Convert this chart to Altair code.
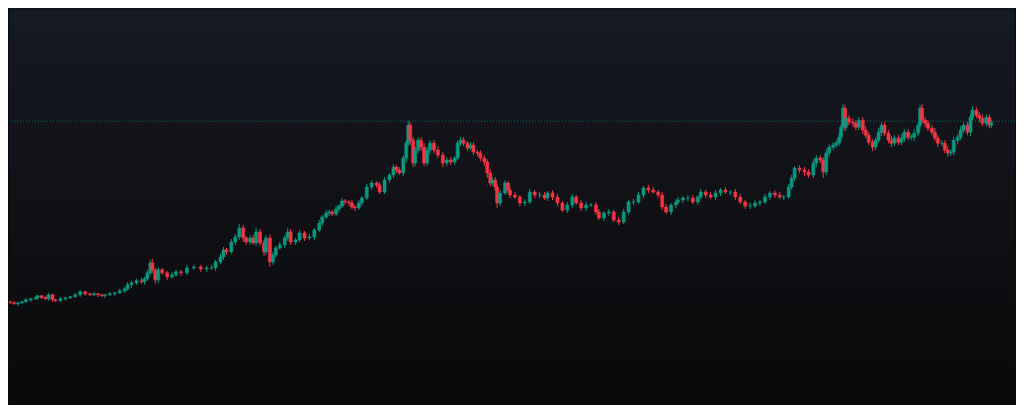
import altair as alt
import pandas as pd

# time index (trading session number) and closing prices
t = [0,4,8,12,16,20,25,30,32,36,40,43,47,50,55,60,65,70,75,80,85,89,93,97,
     100,105,110,115,120,123,127,132,137,140,143,146,148,151,154,158,163,168,172,177,183,190,197,
     203,208,212,217,220,223,228,232,236,240,243,247,250,253,257,261,263,267,270,273,277,282,285,288,293,297,
     302,307,312,317,320,324,327,330,334,337,340,343,347,350,353,357,360,365,370,375,378,383,388,392,395,398,
     402,405,407,409,412,414,417,420,423,426,429,433,437,442,446,450,454,457,460,463,467,470,473,477,480,484,487,490,492,495,497,
     500,505,508,510,515,520,525,530,535,540,545,548,553,558,563,568,573,577,582,587,592,597,
     600,605,610,615,620,625,630,635,640,645,650,655,660,664,668,673,678,680,685,690,695,
     700,703,708,713,718,723,728,733,738,743,748,753,758,763,768,773,778,783,787,792,795,798,
     803,808,812,817,820,824,827,830,833,837,840,843,845,847,849,850,853,857,860,863,867,870,873,877,880,883,886,889,893,896,899,
     903,906,909,913,916,919,923,925,927,930,933,937,940,943,947,950,953,956,959,963,966,969,973,976,978,982,985,988,992,995,997]

close = [198,197,196,197,198,200,201,202,204,202,201,205,200,199,201,202,203,205,208,206,205,206,205,204,
         205,206,207,209,211,215,217,219,218,221,227,237,230,220,230,227,223,225,228,227,232,233,231,
         232,232,238,243,250,248,258,263,272,262,258,262,257,268,257,248,262,238,245,252,255,262,268,258,260,267,
         262,263,270,277,283,287,288,286,291,294,299,298,297,293,292,297,302,313,317,315,308,320,325,333,330,327,
         342,357,375,360,337,350,360,353,337,350,357,350,345,337,340,338,342,357,360,357,352,355,348,347,342,338,327,317,320,313,297,
         307,317,310,305,303,297,298,308,305,305,302,307,303,297,290,295,303,297,292,295,295,288,
         282,287,288,280,278,288,298,298,305,312,310,308,305,293,288,295,298,300,302,302,298,
         303,308,305,303,307,310,308,308,303,298,294,294,297,298,303,307,305,303,303,313,322,332,
         330,328,325,337,342,340,328,347,353,355,357,363,373,392,373,382,378,377,373,380,370,365,358,353,360,368,375,367,360,357,362,
         358,362,368,363,363,367,375,392,380,377,372,368,362,357,357,350,347,348,360,363,370,375,368,383,390,385,382,377,383,375,378]

# wick lengths above and below each candle body (price units), estimated by eye
upper_wick = [1,1,2,1,1,2,1,2,1,1,2,2,1,1,2,1,1,2,2,1,1,2,1,1,
              1,2,1,2,2,3,2,2,3,2,3,3,4,2,3,2,2,3,2,2,3,2,2,
              2,3,2,3,3,2,3,3,4,3,2,3,3,4,3,3,3,4,3,2,3,3,4,3,2,3,
              2,3,2,3,2,3,2,2,3,2,3,2,2,3,2,3,2,3,3,2,3,3,2,3,2,3,
              3,3,4,3,3,4,3,3,4,3,3,3,4,3,3,3,2,3,3,3,2,3,3,2,3,3,3,4,3,3,3,
              3,3,2,3,3,2,3,3,2,3,3,2,3,3,2,3,3,2,3,3,2,3,
              3,2,3,2,3,3,2,3,3,2,3,3,2,3,3,2,3,3,2,3,3,
              2,3,2,3,3,2,3,2,3,3,2,3,3,2,3,2,3,3,2,3,3,2,
              3,3,3,4,3,3,3,4,3,3,3,4,3,4,3,3,3,4,3,3,3,4,3,3,3,4,3,3,3,4,3,
              3,4,3,3,3,4,3,3,4,3,3,3,4,3,3,3,4,3,3,3,4,3,3,3,4,3,3,4,3,3,3]

lower_wick = [2,1,1,2,1,1,2,1,2,1,1,2,2,1,1,2,1,1,2,2,1,1,2,1,
              2,1,2,1,2,2,3,2,2,3,2,2,3,4,3,2,3,2,2,3,2,2,3,
              3,2,3,2,3,3,2,3,3,4,3,3,2,3,3,4,3,5,3,3,2,3,3,3,3,2,
              3,2,3,2,3,2,3,2,2,3,2,3,3,2,3,2,3,2,3,3,2,2,3,3,3,2,
              3,4,3,5,4,3,3,4,3,3,4,3,3,4,3,3,3,2,3,3,3,2,3,3,3,4,5,3,3,4,5,
              3,2,3,3,2,3,3,2,3,3,2,3,3,3,2,3,3,2,3,3,2,3,
              2,3,3,2,3,2,3,3,2,3,3,2,3,3,2,3,3,2,3,3,2,
              3,2,3,2,3,3,2,3,3,2,3,3,2,3,2,3,3,2,3,2,3,3,
              3,4,3,3,4,3,6,3,4,3,3,3,4,3,4,3,3,4,3,3,4,3,3,4,3,3,4,3,3,4,3,
              3,3,4,3,3,4,3,3,3,4,3,3,3,4,3,3,4,3,3,4,3,3,3,4,3,3,4,3,3,3,3]

last_price = [379]

UP = "#089981"
DOWN = "#f23645"

W, H = 1008, 397

df = pd.DataFrame({"t": t, "close": close, "uw": upper_wick, "lw": lower_wick})
df["open"] = df["close"].shift(1).fillna(df["close"])
df["high"] = df[["open", "close"]].max(axis=1) + df["uw"]
df["low"] = df[["open", "close"]].min(axis=1) - df["lw"]
df["dir"] = ["up" if c >= o else "down" for o, c in zip(df["open"], df["close"])]

xs = alt.Scale(domain=[8, 1016], nice=False, zero=False)
ys = alt.Scale(domain=[95, 492], nice=False, zero=False)
cs = alt.Scale(domain=["up", "down"], range=[UP, DOWN])

bg = alt.Chart(alt.Data(values=[{"a": 1}])).mark_rect(
    color=alt.Gradient(
        gradient="linear",
        stops=[alt.GradientStop(color="#151923", offset=0),
               alt.GradientStop(color="#111216", offset=0.45),
               alt.GradientStop(color="#09090b", offset=1)],
        x1=0, x2=0, y1=0, y2=1,
    )
).encode(x=alt.value(0), x2=alt.value(W), y=alt.value(0), y2=alt.value(H))

line = alt.Chart(pd.DataFrame({"p": last_price})).mark_rule(
    color=UP, strokeDash=[1, 2], strokeWidth=1, opacity=0.75
).encode(y=alt.Y("p:Q", scale=ys, axis=None))

wicks = alt.Chart(df).mark_rule(clip=True, strokeWidth=1).encode(
    x=alt.X("t:Q", scale=xs, axis=None),
    y=alt.Y("low:Q", scale=ys, axis=None),
    y2="high:Q",
    color=alt.Color("dir:N", scale=cs, legend=None),
)

bodies = alt.Chart(df).mark_bar(size=3, clip=True, strokeWidth=0.6).encode(
    x=alt.X("t:Q", scale=xs, axis=None),
    y=alt.Y("open:Q", scale=ys, axis=None),
    y2="close:Q",
    color=alt.Color("dir:N", scale=cs, legend=None),
    stroke=alt.Stroke("dir:N", scale=cs, legend=None),
)

chart = alt.layer(bg, line, wicks, bodies).properties(
    width=W, height=H, padding=0, background="#0b0b0e"
).configure_view(stroke=None)

chart.save("out.html", embed_options={"renderer": "svg", "actions": False})
